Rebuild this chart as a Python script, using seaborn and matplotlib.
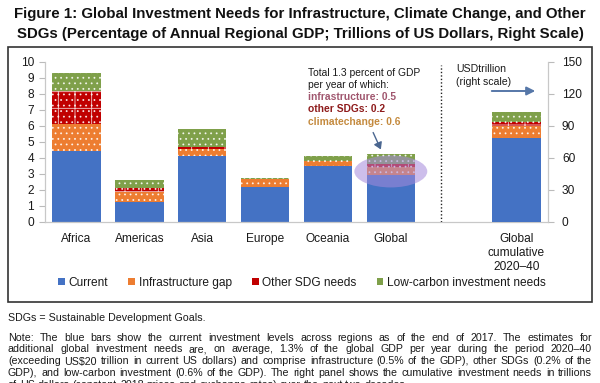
import numpy as np
import pandas as pd
import matplotlib
matplotlib.use("Agg")
import matplotlib.pyplot as plt
from matplotlib.patches import Patch, Ellipse, Rectangle
import seaborn as sns

# ---------------- data ----------------
categories = ["Africa", "Americas", "Asia", "Europe", "Oceania", "Global"]
current = [4.45, 1.23, 4.12, 2.20, 3.50, 2.95]
infra_gap = [1.70, 0.67, 0.44, 0.47, 0.30, 0.50]
other_sdg = [2.05, 0.25, 0.15, 0.02, 0.03, 0.20]
low_carbon = [1.10, 0.47, 1.08, 0.08, 0.30, 0.60]

cum_label = "Global\ncumulative\n2020–40"
cum_current = [79.0]
cum_infra = [11.0]
cum_other = [3.5]
cum_low = [9.5]

left_ticks = [0, 1, 2, 3, 4, 5, 6, 7, 8, 9, 10]
right_ticks = [0, 30, 60, 90, 120, 150]
series_names = ["Current", "Infrastructure gap", "Other SDG needs", "Low-carbon investment needs"]

# ---------------- style ----------------
sns.set_style("white")
plt.rcParams["font.family"] = ["Liberation Sans", "DejaVu Sans"]
plt.rcParams["hatch.linewidth"] = 0.6

C_BLUE = "#4472C4"
C_ORANGE = "#ED7D31"
C_RED = "#C00000"
C_GREEN = "#7FA04A"
TXT = "#1a1a1a"

W, H = 600, 383
fig = plt.figure(figsize=(6.0, 3.83), dpi=100)
fx = lambda x: x / W
fy = lambda y: 1 - y / H

ax = fig.add_axes([fx(45), fy(222), (548 - 45) / W, (222 - 62) / H])
ax2 = ax.twinx()

order = categories + [" ", cum_label]

df = pd.DataFrame({"cat": categories, "current": current, "infra": infra_gap,
                   "other": other_sdg, "low": low_carbon})
df["s1"] = df["current"]
df["s2"] = df["s1"] + df["infra"]
df["s3"] = df["s2"] + df["other"]
df["s4"] = df["s3"] + df["low"]

dfc = pd.DataFrame({"cat": [cum_label], "current": cum_current, "infra": cum_infra,
                    "other": cum_other, "low": cum_low})
dfc["s1"] = dfc["current"]
dfc["s2"] = dfc["s1"] + dfc["infra"]
dfc["s3"] = dfc["s2"] + dfc["other"]
dfc["s4"] = dfc["s3"] + dfc["low"]

layers = [("s4", C_GREEN, "..."), ("s3", C_RED, "+..."), ("s2", C_ORANGE, "..."), ("s1", C_BLUE, None)]
BW = 0.77
for a, d in ((ax, df), (ax2, dfc)):
    for col, c, h in layers:
        kw = dict(hatch=h, edgecolor="#FFFFFFCC", linewidth=0) if h else dict(linewidth=0)
        sns.barplot(data=d, x="cat", y=col, order=order, color=c, saturation=1,
                    width=BW, errorbar=None, ax=a, **kw)

ax.set_xlim(-0.5, 7.5)
ax2.set_xlim(-0.5, 7.5)
ax.set_ylim(0, 10)
ax2.set_ylim(0, 150)
ax.set_yticks(left_ticks)
ax2.set_yticks(right_ticks)
ax.set_xlabel("")
ax.set_ylabel("")
ax2.set_xlabel("")
ax2.set_ylabel("")
ax.set_xticks(range(len(order)))
ax.set_xticklabels(categories + ["", cum_label], fontsize=8.6, color=TXT)
ax.tick_params(axis="x", length=0, pad=8)
ax.tick_params(axis="y", labelsize=8.6, labelcolor=TXT, length=4, width=0.8,
               color="#BBBBBB", pad=4)
ax2.tick_params(axis="y", labelsize=8.6, labelcolor=TXT, length=4, width=0.8,
                color="#BBBBBB", pad=6)
for a in (ax, ax2):
    a.spines["top"].set_visible(False)
    for s in ("left", "right", "bottom"):
        a.spines[s].set_color("#C8C8C8")
        a.spines[s].set_linewidth(0.9)
ax.spines["right"].set_visible(False)
ax2.spines["left"].set_visible(False)
ax2.spines["bottom"].set_visible(False)
ax.set_facecolor("none")
ax2.set_facecolor("none")

# dotted separator
ax.plot([5.8, 5.8], [0, 9.8], linestyle=(0, (1, 1.5)), color="#222222", lw=1.0, zorder=5)

# highlight ellipse on Global bar
ax.add_patch(Ellipse((5.0, 3.16), 1.16, 2.0, facecolor="#A58ADB", alpha=0.55,
                     edgecolor="none", zorder=6))

# annotation text (figure pixel coords)
ann_x = 308
fig.text(fx(ann_x), fy(72.7), "Total 1.3 percent of GDP", fontsize=7.4, color=TXT, va="center")
fig.text(fx(ann_x), fy(84.6), "per year of which:", fontsize=7.4, color=TXT, va="center")
fig.text(fx(ann_x), fy(96.9), "infrastructure: 0.5", fontsize=7.4, color="#A0566E",
         va="center", fontweight="bold")
fig.text(fx(ann_x), fy(109.3), "other SDGs: 0.2", fontsize=7.4, color="#8E1B1B",
         va="center", fontweight="bold")
fig.text(fx(ann_x), fy(121.7), "climatechange: 0.6", fontsize=7.4, color="#C48A3E",
         va="center", fontweight="bold")
fig.add_artist(matplotlib.patches.FancyArrowPatch(
    (fx(372), fy(130)), (fx(382), fy(152)), transform=fig.transFigure,
    arrowstyle="-|>,head_length=4,head_width=2.5", color="#4A6690", lw=1.0))

fig.text(fx(456), fy(69), "USDtrillion", fontsize=7.6, color=TXT, va="center")
fig.text(fx(456), fy(82), "(right scale)", fontsize=7.6, color=TXT, va="center")
fig.add_artist(matplotlib.patches.FancyArrowPatch(
    (fx(489), fy(91)), (fx(538), fy(91)), transform=fig.transFigure,
    arrowstyle="-|>,head_length=5,head_width=2.5", color="#5677A8", lw=1.4))

# legend
handles = [Patch(facecolor=C_BLUE, edgecolor="none"),
           Patch(facecolor=C_ORANGE, edgecolor="none"),
           Patch(facecolor=C_RED, edgecolor="none"),
           Patch(facecolor=C_GREEN, edgecolor="none")]
fig.legend(handles, series_names, loc="center", bbox_to_anchor=(fx(302), fy(283)),
           ncol=4, frameon=False, fontsize=8.6, handlelength=0.55, handleheight=0.55,
           handletextpad=0.3, columnspacing=1.7, labelcolor=TXT)

# outer box
fig.add_artist(Rectangle((fx(8), fy(302)), fx(592) - fx(8), fy(47) - fy(302),
                         transform=fig.transFigure, fill=False, edgecolor="#333333", lw=1.2))

# title
fig.text(0.5, fy(14), "Figure 1: Global Investment Needs for Infrastructure, Climate Change, and Other",
         ha="center", va="center", fontsize=10.8, fontweight="bold", color="#111111")
fig.text(0.5, fy(34), "SDGs (Percentage of Annual Regional GDP; Trillions of US Dollars, Right Scale)",
         ha="center", va="center", fontsize=10.8, fontweight="bold", color="#111111")

# notes
NFS = 7.7
fig.text(fx(8), fy(317.7), "SDGs = Sustainable Development Goals.", fontsize=NFS, color=TXT, va="center")

note_lines = [
    "Note: The blue bars show the current investment levels across regions as of the end of 2017. The estimates for",
    "additional global investment needs are, on average, 1.3% of the global GDP per year during the period 2020–40",
    "(exceeding US$20 trillion in current US dollars) and comprise infrastructure (0.5% of the GDP), other SDGs (0.2% of the",
    "GDP), and low-carbon investment (0.6% of the GDP). The right panel shows the cumulative investment needs in trillions",
    "of US dollars (constant 2018 prices and exchange rates) over the next two decades.",
]
note_y = [337.7, 349.5, 361.5, 373.4, 385.4]
renderer = fig.canvas.get_renderer()
x0, x1 = 8, 592
for i, (line, y) in enumerate(zip(note_lines, note_y)):
    words = line.split(" ")
    ts = [fig.text(0, fy(y), w, fontsize=NFS, color=TXT, va="center", ha="left") for w in words]
    widths = [t.get_window_extent(renderer).width for t in ts]
    if i < len(note_lines) - 1:
        gap = (x1 - x0 - sum(widths)) / (len(words) - 1)
    else:
        gap = NFS * 0.28 * 100 / 72
    x = x0
    for t, wdt in zip(ts, widths):
        t.set_x(fx(x))
        x += wdt + gap

fig.savefig("out.png", dpi=100)
